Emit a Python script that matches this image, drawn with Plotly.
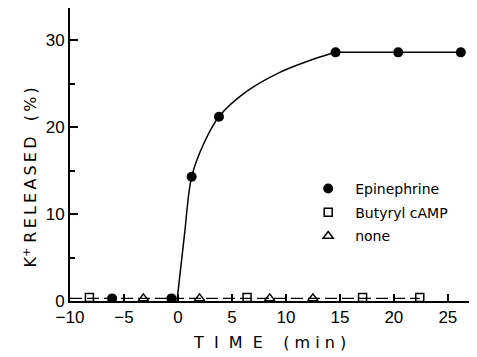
import plotly.graph_objects as go

# Epinephrine data points
epi_x = [-6.1, -0.6, 1.27, 3.8, 14.6, 20.4, 26.2]
epi_y = [0.3, 0.3, 14.3, 21.2, 28.6, 28.6, 28.6]
# Hand-drawn fitted curve for epinephrine
curve_x = [-0.09, 0.6, 1.27, 2.5, 3.8, 6.36, 9.44, 12.53, 14.6]
curve_y = [0.0, 7.6, 14.3, 18.4, 21.2, 24.1, 26.3, 27.8, 28.6]
# plateau segment of the curve
plateau_x = [14.6, 20.4, 26.2]
plateau_y = [28.6, 28.6, 28.6]
# Butyryl cAMP
camp_x = [-8.2, 6.4, 17.1, 22.4]
camp_y = [0.4, 0.4, 0.4, 0.4]
# none
none_x = [-3.2, 2.0, 8.5, 12.5]
none_y = [0.3, 0.3, 0.3, 0.3]

x_range = [-10, 27.7]
y_range = [0, 33.7]
x_ticks = [-10, -5, 0, 5, 10, 15, 20, 25]
y_ticks = [0, 10, 20, 30]
y_minor = [5, 15, 25]

# baseline connecting control points
base_x = [x_range[0]] + sorted(camp_x + none_x + epi_x[:2])
base_y = [0.3] * len(base_x)

NB = "\u00a0"
TS = "\u2009"
x_title = NB.join(["T", "", "I", "", "M", "", "E"]) + NB * 4 + NB.join(["(", "m", "i", "n", ")"])
y_title = "K<sup>+</sup>" + NB + TS.join(list("RELEASED")) + NB * 3 + TS.join(list("(%)"))

fig = go.Figure()
fig.add_trace(go.Scatter(x=base_x, y=base_y, mode="lines",
                         line=dict(color="black", width=1.2, dash="12px,5px"),
                         showlegend=False, hoverinfo="skip"))
fig.add_trace(go.Scatter(x=curve_x, y=curve_y, mode="lines",
                         line=dict(color="black", width=1.5, shape="spline", smoothing=0.9),
                         showlegend=False, hoverinfo="skip"))
fig.add_trace(go.Scatter(x=plateau_x, y=plateau_y, mode="lines",
                         line=dict(color="black", width=1.5),
                         showlegend=False, hoverinfo="skip"))
fig.add_trace(go.Scatter(x=epi_x, y=epi_y, mode="markers", name="Epinephrine",
                         legendgroup="a",
                         marker=dict(symbol="circle", size=10, color="black")))
fig.add_trace(go.Scatter(x=camp_x, y=camp_y, mode="markers", name="Butyryl cAMP",
                         legendgroup="b",
                         marker=dict(symbol="square-open", size=8, color="black",
                                     line=dict(width=1.5, color="black"))))
fig.add_trace(go.Scatter(x=none_x, y=none_y, mode="markers", name="none",
                         legendgroup="c",
                         marker=dict(symbol="triangle-up-open", size=9, color="black",
                                     line=dict(width=1.5, color="black"))))

# page body has an 8px margin: shrink figure so the plot lands where the reference has it
fig.update_layout(
    width=469, height=349,
    margin=dict(l=62, r=0, t=0, b=56),
    paper_bgcolor="white", plot_bgcolor="white",
    font=dict(family="DejaVu Sans", color="black", size=14),
    legend=dict(x=0.568, y=0.437, xanchor="left", yanchor="top",
                bgcolor="rgba(0,0,0,0)", font=dict(size=14, family="DejaVu Sans"),
                itemwidth=44, tracegroupgap=2.5, traceorder="grouped"),
    xaxis=dict(range=x_range, tickvals=x_ticks, showline=True, linecolor="black",
               linewidth=2, ticks="inside", ticklen=7, tickwidth=1.5, tickcolor="black",
               showgrid=False, zeroline=False, automargin=False,
               tickfont=dict(family="Liberation Sans", size=17)),
    yaxis=dict(range=y_range, tickvals=y_ticks, showline=True, linecolor="black",
               linewidth=2, ticks="inside", ticklen=8, tickwidth=1.5, tickcolor="black",
               showgrid=False, zeroline=False, automargin=False,
               minor=dict(tickvals=y_minor, ticks="inside", ticklen=5, tickwidth=1.5,
                          tickcolor="black"),
               tickfont=dict(family="Liberation Sans", size=17)),
    annotations=[
        dict(text=x_title, xref="paper", yref="paper", x=0.489, y=-0.1416,
             xanchor="center", yanchor="middle", showarrow=False,
             font=dict(family="DejaVu Sans", size=16)),
        dict(text=y_title, xref="paper", yref="paper", x=-0.098, y=0.4215,
             xanchor="center", yanchor="middle", showarrow=False, textangle=-90,
             font=dict(family="DejaVu Sans", size=16)),
    ],
)
fig.write_html("out.html")
